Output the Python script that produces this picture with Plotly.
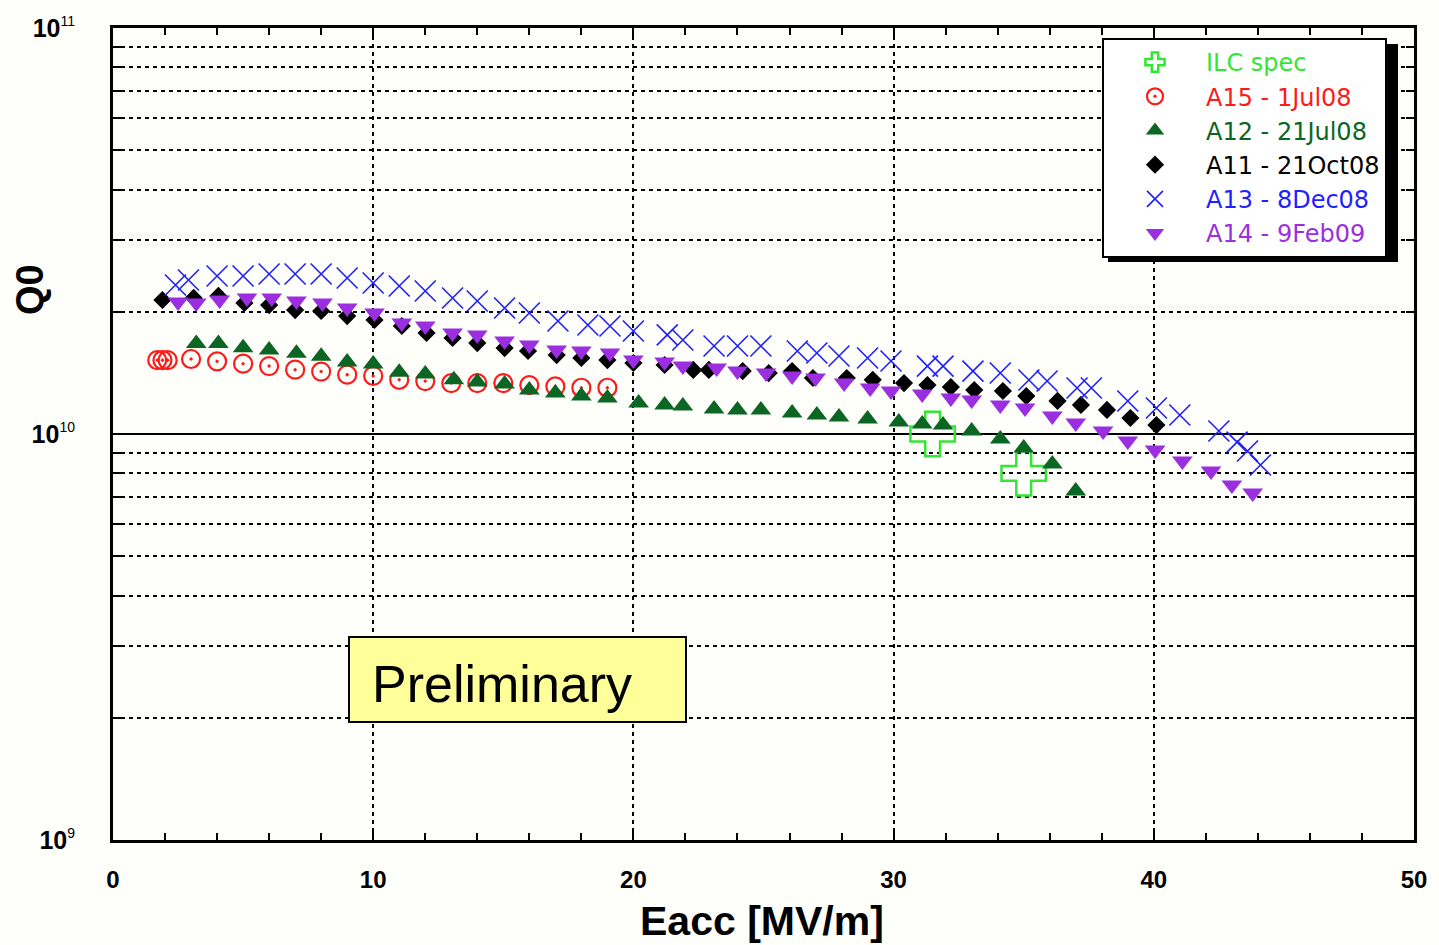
import plotly.graph_objects as go

# ---------------- data ----------------
ilc_e = [31.5, 35.0]
ilc_q = [1.0e10, 0.8e10]

a15_e = [1.7, 1.9, 2.1, 3, 4, 5, 6, 7, 8, 9, 10, 11, 12, 13, 14, 15, 16, 17, 18, 19]
a15_q = [1.52, 1.52, 1.52, 1.53, 1.51, 1.49, 1.47, 1.44, 1.425, 1.40, 1.39, 1.36,
         1.35, 1.335, 1.335, 1.335, 1.32, 1.31, 1.30, 1.30]

a12_e = [3.2, 4.05, 5.0, 6.0, 7.05, 8.0, 9.0, 10.0, 11.0, 12.0, 13.1, 14.0, 15.05,
         16.0, 17.0, 18.0, 19.0, 20.2, 21.2, 21.9, 23.1, 24.0, 24.9, 26.1, 27.05,
         27.9, 29.0, 30.2, 31.1, 31.9, 33.0, 34.1, 35.0, 36.1, 37.0]
a12_q = [1.67, 1.67, 1.63, 1.61, 1.58, 1.555, 1.504, 1.487, 1.42, 1.405, 1.36, 1.343,
         1.328, 1.283, 1.262, 1.24, 1.226, 1.192, 1.179, 1.172, 1.152, 1.146, 1.146,
         1.126, 1.114, 1.101, 1.089, 1.070, 1.058, 1.052, 1.017, 0.972, 0.924, 0.844, 0.724]

a11_e = [1.9, 3.1, 4.05, 5.05, 6.0, 7.0, 8.0, 9.0, 10.05, 11.1, 12.05, 13.05, 14.0,
         15.05, 15.95, 17.05, 18.0, 19.0, 20.0, 21.2, 22.3, 22.9, 24.2, 25.2, 26.1,
         26.9, 28.2, 29.2, 30.4, 31.3, 32.2, 33.1, 34.2, 35.1, 36.3, 37.2, 38.2, 39.1, 40.1]
a11_q = [2.138, 2.163, 2.188, 2.102, 2.078, 2.020, 2.009, 1.952, 1.909, 1.845, 1.774,
         1.724, 1.675, 1.628, 1.601, 1.565, 1.539, 1.521, 1.496, 1.479, 1.438, 1.438,
         1.429, 1.413, 1.429, 1.374, 1.374, 1.360, 1.335, 1.320, 1.305, 1.283, 1.276,
         1.240, 1.206, 1.179, 1.146, 1.095, 1.052]

a13_e = [2.4, 2.9, 4.0, 5.0, 6.0, 7.0, 8.0, 9.0, 10.0, 11.0, 12.0, 13.05, 14.0, 15.05,
         16.0, 17.1, 18.25, 19.1, 20.0, 21.3, 21.9, 23.1, 24.0, 24.9, 26.3, 27.05, 27.9,
         29.0, 29.9, 31.3, 31.9, 33.05, 34.1, 35.2, 35.9, 37.05, 37.6, 39.0, 40.1, 41.0,
         42.5, 43.2, 43.6, 44.1]
a13_q = [2.328, 2.395, 2.450, 2.450, 2.478, 2.478, 2.478, 2.422, 2.354, 2.315, 2.250,
         2.163, 2.126, 2.043, 1.986, 1.898, 1.856, 1.845, 1.794, 1.754, 1.704, 1.647,
         1.647, 1.647, 1.601, 1.583, 1.556, 1.539, 1.513, 1.470, 1.470, 1.429, 1.413,
         1.358, 1.351, 1.298, 1.298, 1.206, 1.159, 1.114, 1.017, 0.955, 0.908, 0.839]

a14_e = [2.5, 3.2, 4.1, 5.15, 6.1, 7.05, 8.05, 9.0, 10.05, 11.1, 12.0, 13.05, 14.0,
         15.05, 16.0, 17.05, 18.0, 19.1, 20.0, 21.2, 21.9, 23.2, 24.0, 25.1, 26.1, 27.0,
         28.1, 29.1, 29.9, 31.1, 32.2, 33.0, 34.1, 35.05, 36.1, 37.0, 38.05, 39.0, 40.05,
         41.1, 42.2, 43.0, 43.8]
a14_q = [2.114, 2.102, 2.138, 2.163, 2.163, 2.126, 2.102, 2.043, 1.986, 1.877, 1.845,
         1.774, 1.754, 1.694, 1.656, 1.610, 1.601, 1.583, 1.521, 1.504, 1.470, 1.454,
         1.429, 1.413, 1.390, 1.374, 1.335, 1.298, 1.276, 1.255, 1.226, 1.212, 1.179,
         1.159, 1.107, 1.064, 1.017, 0.961, 0.913, 0.858, 0.811, 0.749, 0.716]

x_ticks = [0, 10, 20, 30, 40, 50]
y_decades = [1e9, 1e10, 1e11]
y_decade_labels = ["9", "10", "11"]

# ---------------- figure ----------------
C_ILC = "#33e633"
C_A15 = "#ff1a1a"
C_A12 = "#0b6623"
C_A11 = "#000000"
C_A13 = "#1f1fff"
C_A14 = "#9a2ee0"


def lbl(text, color):
    return f"<span style='color:{color}'>{text}</span>"


def scale(vals):
    return [v * 1e10 for v in vals]


fig = go.Figure()
fig.add_trace(go.Scatter(x=ilc_e, y=ilc_q, mode="markers", name=lbl("ILC spec", C_ILC),
                         marker=dict(symbol="cross-open", size=37, color=C_ILC,
                                     line=dict(width=2.5, color=C_ILC))))
fig.add_trace(go.Scatter(x=a15_e, y=scale(a15_q), mode="markers", name=lbl("A15 - 1Jul08", C_A15),
                         marker=dict(symbol="circle-open-dot", size=18, color=C_A15,
                                     line=dict(width=2.2, color=C_A15))))
fig.add_trace(go.Scatter(x=a12_e, y=scale(a12_q), mode="markers", name=lbl("A12 - 21Jul08", C_A12),
                         marker=dict(symbol="triangle-up", size=18, color=C_A12,
                                     line=dict(width=0))))
fig.add_trace(go.Scatter(x=a11_e, y=scale(a11_q), mode="markers", name=lbl("A11 - 21Oct08", C_A11),
                         marker=dict(symbol="diamond", size=14, color=C_A11,
                                     line=dict(width=0))))
fig.add_trace(go.Scatter(x=a13_e, y=scale(a13_q), mode="markers", name=lbl("A13 - 8Dec08", C_A13),
                         marker=dict(symbol="x-thin-open", size=21, color=C_A13,
                                     line=dict(width=1.6, color=C_A13))))
fig.add_trace(go.Scatter(x=a14_e, y=scale(a14_q), mode="markers", name=lbl("A14 - 9Feb09", C_A14),
                         marker=dict(symbol="triangle-down", size=18, color=C_A14,
                                     line=dict(width=0))))

W, H = 1439, 945
# plot area in reference-picture pixels
X0, X1, Y0, Y1 = 113, 1414, 28, 840
L, T = X0, Y0
R, B = W - X1, H - Y1
PW, PH = X1 - X0, Y1 - Y0


def px(x):
    return (x - X0) / PW


def py(y):
    return (Y1 - y) / PH


minor_y = [m * d for d in [1e9, 1e10] for m in range(2, 10)]

fig.update_layout(
    width=W, height=H,
    margin=dict(l=L, r=R, t=T, b=B, pad=0),
    paper_bgcolor="#fefefa",
    plot_bgcolor="#fefefa",
    font=dict(family="Liberation Sans, Arial, sans-serif", color="black"),
    showlegend=True,
    legend=dict(x=px(1102), y=py(38), xanchor="left", yanchor="top",
                bgcolor="white", bordercolor="black", borderwidth=2,
                font=dict(family="DejaVu Sans", size=24, color="black"),
                itemwidth=92, tracegroupgap=0),
    xaxis=dict(range=[0, 50], tickvals=x_ticks, ticktext=[str(v) for v in x_ticks],
               ticks="inside", ticklen=10, tickwidth=1.5, tickcolor="black",
               showline=True, linewidth=3, linecolor="black", mirror="allticks",
               showgrid=True, gridcolor="black", gridwidth=1.5, griddash="4px,4px",
               zeroline=False,
               tickfont=dict(size=24, weight="bold", family="Liberation Sans"),
               ticklabelstandoff=16,
               minor=dict(dtick=2, ticks="inside", ticklen=7, tickwidth=1.5,
                          tickcolor="black", showgrid=False)),
    yaxis=dict(type="log", range=[9, 11], tickvals=y_decades,
               ticktext=[f"10<sup><span style='font-size:14px;font-weight:normal'>{s}</span></sup>"
                         for s in y_decade_labels],
               ticks="inside", ticklen=10, tickwidth=1.5, tickcolor="black",
               showline=True, linewidth=3, linecolor="black", mirror="allticks",
               showgrid=True, gridcolor="black", gridwidth=1.5,
               zeroline=False,
               tickfont=dict(size=25, weight="bold", family="Liberation Sans"),
               ticklabelstandoff=30,
               minor=dict(tickvals=minor_y, ticks="inside", ticklen=8, tickwidth=1.5,
                          tickcolor="black", showgrid=True, gridcolor="black",
                          gridwidth=1.5, griddash="4px,4px")),
    shapes=[
        # legend drop shadow
        dict(type="rect", xref="paper", yref="paper", layer="above",
             x0=px(1108), x1=px(1398), y0=py(262), y1=py(44),
             fillcolor="black", line=dict(width=0)),
        # Preliminary box
        dict(type="rect", xref="paper", yref="paper", layer="above",
             x0=px(349), x1=px(686), y0=py(722), y1=py(637),
             fillcolor="#ffff99", line=dict(color="black", width=2)),
    ],
    annotations=[
        dict(text="Preliminary", xref="paper", yref="paper", x=px(370), y=py(684),
             xanchor="left", yanchor="middle", showarrow=False,
             font=dict(size=52, family="Liberation Sans", color="black")),
        dict(text="<b>Q0</b>", xref="paper", yref="paper", x=px(30), y=py(290),
             xanchor="center", yanchor="middle", textangle=-90, showarrow=False,
             font=dict(size=38, family="Liberation Sans", color="black")),
        dict(text="<b>Eacc [MV/m]</b>", xref="paper", yref="paper", x=px(762), y=py(921),
             xanchor="center", yanchor="middle", showarrow=False,
             font=dict(size=41, family="Liberation Sans", color="black")),
    ],
)

fig.write_html(
    "out.html",
    config={"displayModeBar": False},
    post_script="document.body.style.margin='0';document.body.style.overflow='hidden';",
)
